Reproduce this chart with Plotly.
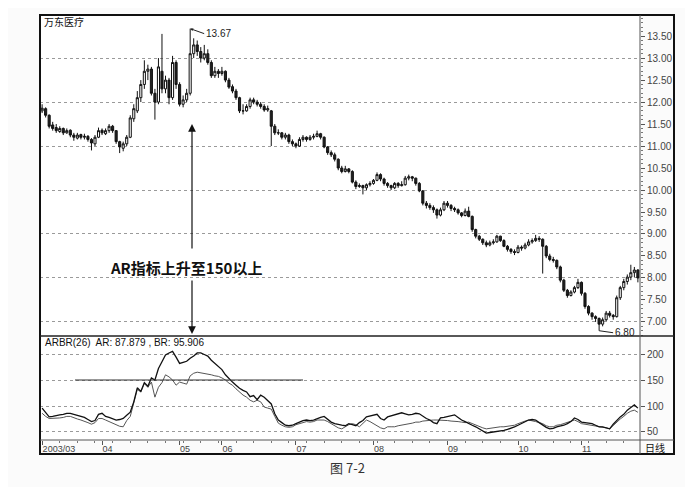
import plotly.graph_objects as go
import numpy as np

# ---------------- data ----------------
stock_name = "万东医疗"
price_open = [
    11.80, 11.85, 11.70, 11.48, 11.42, 11.33, 11.40, 11.30, 11.36, 11.25,
    11.18, 11.26, 11.20, 11.22, 11.15, 11.05, 11.20, 11.36, 11.28, 11.35,
    11.45, 11.35, 11.10, 10.95, 11.05, 11.20, 11.62, 11.80, 12.10, 12.40,
    12.70, 12.75, 12.20, 12.00, 12.70, 12.30, 12.50, 12.10, 12.90, 12.40,
    11.95, 12.05, 12.20, 13.10, 13.30, 13.15, 13.00, 13.10, 12.90, 12.60,
    12.70, 12.65, 12.70, 12.50, 12.35, 12.25, 12.10, 11.80, 11.80, 11.90,
    12.05, 12.00, 11.95, 11.90, 11.82, 11.80, 11.45, 11.30, 11.30, 11.20,
    11.25, 11.10, 11.05, 11.00, 11.15, 11.20, 11.15, 11.20, 11.22, 11.28,
    11.20, 10.98, 10.85, 10.80, 10.70, 10.50, 10.42, 10.48, 10.42, 10.18,
    10.08, 10.10, 10.05, 10.12, 10.15, 10.22, 10.35, 10.25, 10.15, 10.10,
    10.05, 10.15, 10.10, 10.12, 10.27, 10.30, 10.27, 10.15, 9.98, 9.70,
    9.65, 9.60, 9.55, 9.43, 9.55, 9.70, 9.65, 9.58, 9.55, 9.48,
    9.42, 9.52, 9.40, 9.10, 8.95, 8.88, 8.80, 8.75, 8.80, 8.82,
    8.95, 8.85, 8.72, 8.65, 8.60, 8.58, 8.70, 8.68, 8.75, 8.82,
    8.85, 8.90, 8.88, 8.72, 8.50, 8.42, 8.40, 8.25, 7.95, 7.72,
    7.60, 7.68, 7.78, 7.90, 7.65, 7.35, 7.20, 7.12, 7.08, 6.95,
    7.05, 7.20, 7.15, 7.12, 7.55, 7.78, 7.92, 8.02, 8.12, 8.18,
]
price_high = [
    11.95, 11.88, 11.72, 11.55, 11.50, 11.45, 11.42, 11.40, 11.38, 11.30,
    11.30, 11.28, 11.28, 11.25, 11.18, 11.25, 11.42, 11.40, 11.40, 11.50,
    11.48, 11.36, 11.12, 11.10, 11.25, 11.70, 11.95, 12.25, 12.50, 12.95,
    12.85, 12.80, 12.30, 13.00, 13.55, 12.60, 12.55, 13.05, 12.95, 12.45,
    12.15, 12.30, 13.67, 13.45, 13.40, 13.25, 13.30, 13.20, 12.95, 12.80,
    12.75, 12.80, 12.72, 12.55, 12.40, 12.30, 12.12, 11.95, 11.95, 12.10,
    12.10, 12.05, 12.00, 11.95, 11.92, 11.82, 11.50, 11.38, 11.32, 11.30,
    11.28, 11.15, 11.08, 11.20, 11.25, 11.22, 11.25, 11.28, 11.35, 11.30,
    11.22, 11.00, 10.90, 10.85, 10.72, 10.55, 10.55, 10.50, 10.45, 10.22,
    10.15, 10.12, 10.15, 10.20, 10.25, 10.40, 10.38, 10.28, 10.18, 10.12,
    10.18, 10.18, 10.20, 10.32, 10.35, 10.32, 10.28, 10.18, 10.00, 9.75,
    9.70, 9.65, 9.58, 9.60, 9.75, 9.75, 9.68, 9.62, 9.58, 9.50,
    9.58, 9.62, 9.42, 9.12, 8.98, 8.90, 8.85, 8.85, 8.88, 8.98,
    8.96, 8.88, 8.75, 8.68, 8.65, 8.75, 8.74, 8.80, 8.88, 8.90,
    8.98, 8.95, 8.90, 8.75, 8.55, 8.48, 8.42, 8.28, 7.98, 7.75,
    7.72, 7.82, 7.98, 7.92, 7.68, 7.38, 7.22, 7.15, 7.10, 7.10,
    7.25, 7.25, 7.18, 7.60, 7.82, 7.98, 8.08, 8.30, 8.25, 8.20,
]
price_low = [
    11.75, 11.65, 11.40, 11.35, 11.30, 11.30, 11.25, 11.28, 11.20, 11.12,
    11.15, 11.15, 11.15, 11.10, 10.90, 11.00, 11.18, 11.25, 11.25, 11.30,
    11.30, 11.05, 10.84, 10.88, 11.00, 11.18, 11.55, 11.75, 12.00, 12.30,
    12.50, 12.15, 11.60, 11.95, 12.20, 12.20, 11.95, 12.05, 12.30, 11.90,
    11.88, 12.00, 12.15, 13.00, 13.05, 12.90, 12.95, 12.85, 12.55, 12.55,
    12.55, 12.60, 12.45, 12.30, 12.20, 12.05, 11.75, 11.72, 11.78, 11.85,
    11.95, 11.90, 11.85, 11.78, 11.78, 11.00, 11.25, 11.25, 11.15, 11.15,
    11.05, 11.00, 10.95, 10.98, 11.10, 11.10, 11.12, 11.15, 11.20, 11.15,
    10.95, 10.80, 10.75, 10.65, 10.45, 10.38, 10.40, 10.38, 10.15, 10.02,
    10.05, 9.90, 10.00, 10.08, 10.12, 10.20, 10.20, 10.10, 10.05, 10.00,
    10.02, 10.05, 10.08, 10.10, 10.22, 10.20, 10.10, 9.95, 9.65, 9.58,
    9.55, 9.48, 9.35, 9.40, 9.52, 9.60, 9.52, 9.50, 9.44, 9.38,
    9.40, 9.38, 9.05, 8.90, 8.84, 8.75, 8.70, 8.72, 8.76, 8.80,
    8.82, 8.70, 8.60, 8.55, 8.52, 8.56, 8.62, 8.65, 8.72, 8.78,
    8.82, 8.82, 8.10, 8.45, 8.38, 8.35, 8.20, 7.90, 7.68, 7.55,
    7.58, 7.65, 7.75, 7.60, 7.30, 7.15, 7.05, 7.00, 6.80, 6.90,
    7.02, 7.10, 7.05, 7.10, 7.50, 7.72, 7.85, 7.95, 8.02, 7.90,
]
price_close = [
    11.86, 11.70, 11.45, 11.40, 11.35, 11.40, 11.30, 11.35, 11.25, 11.20,
    11.25, 11.20, 11.22, 11.15, 11.07, 11.20, 11.35, 11.30, 11.35, 11.45,
    11.35, 11.10, 10.98, 11.05, 11.20, 11.64, 11.85, 12.10, 12.40, 12.70,
    12.75, 12.20, 12.00, 12.80, 12.30, 12.50, 12.10, 12.90, 12.40, 11.95,
    12.05, 12.20, 13.10, 13.30, 13.15, 13.00, 13.10, 12.90, 12.60, 12.70,
    12.65, 12.70, 12.50, 12.34, 12.25, 12.10, 11.80, 11.80, 11.90, 12.05,
    12.00, 11.95, 11.90, 11.82, 11.85, 11.45, 11.30, 11.30, 11.20, 11.25,
    11.10, 11.05, 11.00, 11.15, 11.20, 11.15, 11.20, 11.22, 11.28, 11.20,
    10.98, 10.85, 10.80, 10.70, 10.50, 10.42, 10.48, 10.42, 10.18, 10.08,
    10.10, 10.05, 10.12, 10.15, 10.22, 10.35, 10.25, 10.15, 10.10, 10.05,
    10.15, 10.10, 10.12, 10.27, 10.30, 10.27, 10.15, 9.98, 9.70, 9.65,
    9.60, 9.55, 9.43, 9.55, 9.70, 9.65, 9.58, 9.55, 9.48, 9.42,
    9.52, 9.40, 9.10, 8.95, 8.88, 8.80, 8.75, 8.80, 8.82, 8.95,
    8.85, 8.72, 8.65, 8.60, 8.58, 8.70, 8.68, 8.75, 8.82, 8.85,
    8.90, 8.88, 8.72, 8.50, 8.42, 8.40, 8.25, 7.95, 7.72, 7.60,
    7.68, 7.78, 7.90, 7.65, 7.35, 7.20, 7.12, 7.08, 6.95, 7.05,
    7.20, 7.15, 7.12, 7.55, 7.78, 7.92, 8.02, 8.12, 8.18, 8.00,
]
br_values = [
    96, 88, 79, 80, 82, 83, 84, 86, 86, 84,
    82, 80, 78, 74, 70, 72, 84, 86, 80, 78,
    75, 73, 74, 76, 82, 88, 108, 135, 128, 145,
    138, 154, 150, 172, 185, 198, 202, 205, 194, 182,
    184, 186, 192, 196, 202, 202, 199, 196, 188, 182,
    176, 170, 160, 152, 146, 140, 134, 130, 127, 118,
    120, 112, 121, 117, 110, 104, 85, 73, 68, 63,
    62, 63, 66, 69, 72, 73, 72, 73, 76, 78,
    80, 75, 69, 66, 64, 63, 62, 66, 64, 62,
    68, 72, 79, 81, 83, 84, 76, 73, 79, 81,
    83, 85, 87, 85, 83, 84, 86, 85, 80, 76,
    73, 68, 66, 77, 78, 80, 82, 83, 78, 73,
    70, 66, 63, 60, 56, 52, 48, 49, 50, 50,
    52, 53, 55, 57, 60, 63, 66, 70, 73, 74,
    73, 68, 63, 59, 56, 57, 60, 61, 63, 66,
    70, 77, 74, 69, 68, 67, 66, 63, 60, 60,
    58, 56, 65, 73, 79, 84, 92, 97, 102, 95.906,
]
ar_values = [
    86, 80, 76, 76, 77, 77, 78, 80, 80, 77,
    75, 73, 71, 68, 65, 68, 76, 76, 73, 70,
    66, 63, 61, 60, 72, 80, 104, 132, 127, 143,
    136, 146, 117, 136, 145, 160, 156, 150, 140, 146,
    144, 142, 158, 163, 165, 164, 163, 161, 160, 158,
    157, 154, 150, 144, 140, 133, 127, 121, 117, 111,
    108, 111, 108, 98, 96, 94, 80, 67, 63, 60,
    59, 60, 64, 66, 68, 70, 69, 70, 73, 73,
    73, 70, 66, 62, 58, 56, 60, 64, 66, 64,
    60, 66, 73, 70, 66, 63, 58, 56, 60, 60,
    60, 62, 63, 65, 66, 67, 69, 69, 71, 72,
    73, 73, 73, 73, 72, 72, 71, 71, 70, 69,
    68, 69, 66, 63, 60, 58, 56, 57, 58, 60,
    60, 60, 61, 62, 63, 66, 69, 71, 73, 72,
    70, 68, 66, 62, 60, 60, 63, 64, 66, 69,
    71, 73, 70, 66, 65, 64, 63, 62, 60, 60,
    58, 56, 63, 69, 75, 80, 86, 90, 92, 87.879,
]
month_index = [0, 17, 39, 51, 72, 94, 115, 135, 153]
month_labels = ["2003/03", "04", "05", "06", "07", "08", "09", "10", "11"]
price_ticks_step = 0.5
price_grid_step = 1.0
ind_ticks = [50, 100, 150, 200]
ar_threshold = 150
note_text = "AR指标上升至150以上"
caption = "图 7-2"
period_text = "日线"

# ---------------- helpers (screen pixel -> paper) ----------------
# the page body has an 8px default margin, so the figure is offset by 8px
OFF = 8
W, H = 693 - OFF, 487 - OFF
def X(px):
    return (px - OFF) / W
def Y(py):
    return 1 - (py - OFF) / H

idx = list(range(len(price_close)))
n = len(idx)

fig = go.Figure()
fig.add_trace(go.Candlestick(
    x=idx, open=price_open, high=price_high, low=price_low, close=price_close,
    increasing=dict(line=dict(color="#111", width=1), fillcolor="white"),
    decreasing=dict(line=dict(color="#111", width=1), fillcolor="#222"),
    whiskerwidth=0, xaxis="x", yaxis="y", hoverinfo="skip",
))
# invisible trace that activates the grid-only overlay axis
fig.add_trace(go.Scatter(x=idx, y=price_close, mode="lines", opacity=0,
                         line=dict(width=0), xaxis="x", yaxis="y3", hoverinfo="skip"))
fig.add_trace(go.Scatter(x=idx, y=ar_values, mode="lines",
                         line=dict(color="#555", width=1), xaxis="x2", yaxis="y2"))
fig.add_trace(go.Scatter(x=idx, y=br_values, mode="lines",
                         line=dict(color="#111", width=1.3), xaxis="x2", yaxis="y2"))

tickfont = dict(family="Liberation Sans, Arial", size=10, color="#444")
xdom = [X(40), X(640)]
xrange_ = [-0.6, n - 0.4]
price_range = [6.68, 13.98]
ind_range = [34.6, 232.7]
grid_color = "#9a9a9a"

fig.update_layout(
    width=W, height=H, margin=dict(l=0, r=0, t=0, b=0),
    paper_bgcolor="#fbfbfb", plot_bgcolor="white", showlegend=False,
    boxgap=0.15,
    xaxis=dict(domain=xdom, range=xrange_, anchor="y", showticklabels=False,
               showgrid=False, zeroline=False, rangeslider=dict(visible=False),
               ticks=""),
    yaxis=dict(domain=[Y(336), Y(15)], range=price_range, anchor="x", side="right",
               tick0=7, dtick=price_ticks_step, tickformat=".2f", ticks="outside",
               ticklen=4, tickcolor="#555", showgrid=False, zeroline=False,
               tickfont=tickfont,
               minor=dict(ticks="outside", dtick=0.1, ticklen=2, tickcolor="#777")),
    yaxis3=dict(overlaying="y", range=price_range, anchor="x", side="right",
                tick0=7, dtick=price_grid_step, showgrid=True, griddash="dot",
                gridcolor=grid_color, gridwidth=1, showticklabels=False, ticks="",
                zeroline=False),
    xaxis2=dict(domain=xdom, range=xrange_, anchor="y2", tickmode="array",
                tickvals=month_index, ticktext=month_labels, ticks="outside",
                ticklen=4, tickcolor="#555", ticklabelposition="outside right",
                tickfont=dict(family="Liberation Sans, Arial", size=9, color="#444"),
                showgrid=False, zeroline=False,
                minor=dict(ticks="outside", tick0=0, dtick=5, ticklen=2, tickcolor="#777")),
    yaxis2=dict(domain=[Y(440), Y(337)], range=ind_range, anchor="x2", side="right",
                tickvals=ind_ticks, ticks="outside", ticklen=4, tickcolor="#555",
                showgrid=True, griddash="dot", gridcolor=grid_color, zeroline=False,
                tickfont=tickfont),
)

shapes = [
    dict(type="rect", xref="paper", yref="paper", x0=X(40), x1=X(674), y0=Y(454), y1=Y(15),
         line=dict(color="#111", width=2)),
    dict(type="line", xref="paper", yref="paper", x0=X(40), x1=X(674), y0=Y(336), y1=Y(336),
         line=dict(color="#222", width=1.5)),
    dict(type="line", xref="paper", yref="paper", x0=X(40), x1=X(674), y0=Y(440), y1=Y(440),
         line=dict(color="#555", width=1)),
    dict(type="line", xref="paper", yref="paper", x0=X(640), x1=X(640), y0=Y(454), y1=Y(15),
         line=dict(color="#555", width=1)),
    dict(type="line", xref="paper", yref="y2", x0=X(75), x1=X(303), y0=ar_threshold, y1=ar_threshold,
         line=dict(color="#333", width=1.2)),
]
fig.update_layout(shapes=shapes)

hi_i = int(np.argmax(price_high)); hi_v = price_high[hi_i]
lo_i = int(np.argmin(price_low)); lo_v = price_low[lo_i]

annotations = [
    dict(text=stock_name, xref="paper", yref="paper", x=X(42), y=Y(22),
         xanchor="left", yanchor="middle", showarrow=False,
         font=dict(family="Noto Sans CJK SC", size=10, color="#111")),
    dict(text=f"{hi_v:.2f}", xref="x", yref="y", x=hi_i, y=hi_v,
         ax=14, ay=5, xanchor="left", showarrow=True, arrowhead=2, arrowsize=0.6,
         arrowwidth=1, arrowcolor="#222",
         font=dict(family="Liberation Sans, Arial", size=10, color="#222")),
    dict(text=f"{lo_v:.2f}", xref="x", yref="y", x=lo_i, y=lo_v,
         ax=14, ay=2, xanchor="left", showarrow=True, arrowhead=0,
         arrowwidth=1, arrowcolor="#222",
         font=dict(family="Liberation Sans, Arial", size=10, color="#222")),
    dict(text=f"<b>{note_text}</b>", xref="paper", yref="paper", x=X(108), y=Y(267),
         xanchor="left", yanchor="middle", showarrow=False,
         font=dict(family="Noto Sans CJK SC", size=15, color="#111")),
    dict(text="", xref="paper", yref="paper", x=X(192), y=Y(124), ax=0, ay=126,
         showarrow=True, arrowhead=2, arrowsize=1.3, arrowwidth=1.2, arrowcolor="#111"),
    dict(text="", xref="paper", yref="paper", x=X(192), y=Y(334), ax=0, ay=-55,
         showarrow=True, arrowhead=2, arrowsize=1.3, arrowwidth=1.2, arrowcolor="#111"),
    dict(text=f"ARBR(26)  AR: {ar_values[-1]:.3f} , BR: {br_values[-1]:.3f}",
         xref="paper", yref="paper", x=X(43), y=Y(342), xanchor="left", yanchor="middle",
         showarrow=False, font=dict(family="Liberation Sans, Arial", size=10, color="#111")),
    dict(text=period_text, xref="paper", yref="paper", x=X(643), y=Y(447),
         xanchor="left", yanchor="middle", showarrow=False,
         font=dict(family="Noto Sans CJK SC", size=10, color="#111")),
    dict(text=caption, xref="paper", yref="paper", x=X(347), y=Y(467),
         xanchor="center", yanchor="middle", showarrow=False,
         font=dict(family="Noto Sans CJK SC", size=13, color="#333")),
]
fig.update_layout(annotations=annotations)

fig.write_html("out.html")
